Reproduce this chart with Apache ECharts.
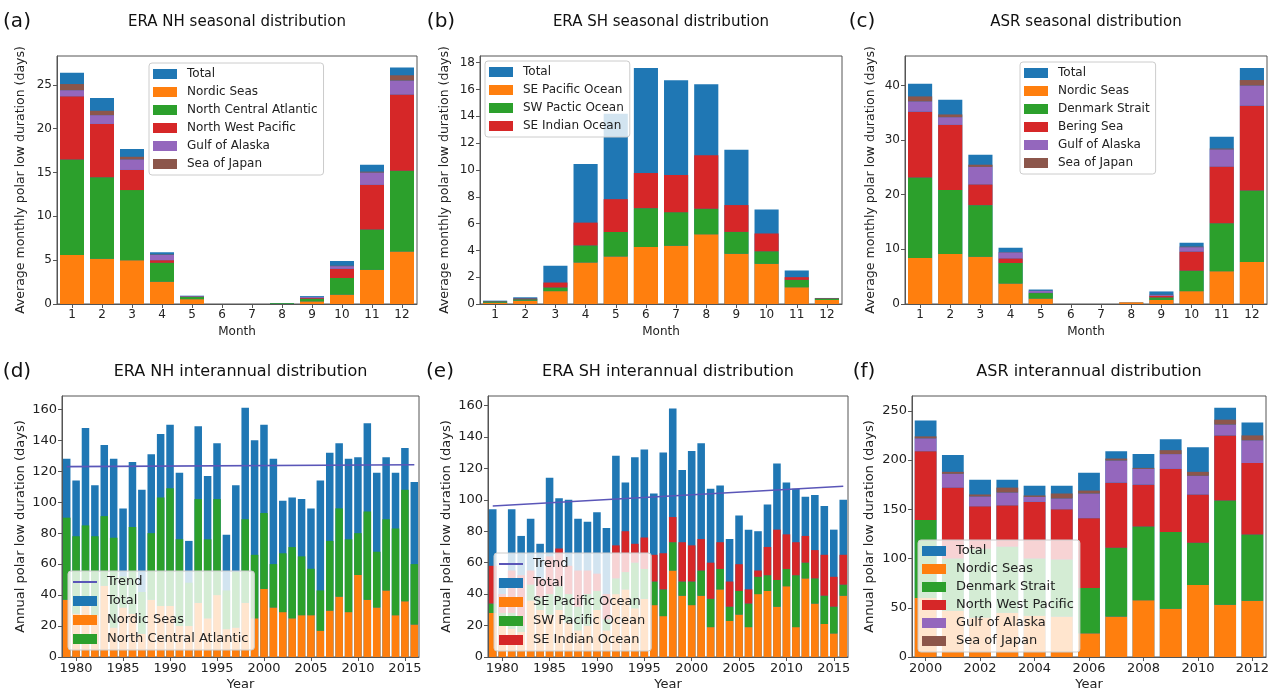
<!DOCTYPE html>
<html><head><meta charset="utf-8">
<script src="https://cdn.jsdelivr.net/npm/echarts@6/dist/echarts.min.js"></script>
<style>html,body{margin:0;padding:0;background:#fff}#c{width:1277px;height:693px}</style>
</head><body><div id="c"></div>
<script>
// ---------- categories ----------
const months = ['1','2','3','4','5','6','7','8','9','10','11','12'];
const yearsERA = ['1979','1980','1981','1982','1983','1984','1985','1986','1987','1988','1989','1990','1991','1992','1993','1994','1995','1996','1997','1998','1999','2000','2001','2002','2003','2004','2005','2006','2007','2008','2009','2010','2011','2012','2013','2014','2015','2016'];
const yearsASR = ['2000','2001','2002','2003','2004','2005','2006','2007','2008','2009','2010','2011','2012'];

// ---------- (a) ERA NH seasonal ----------
const aTotal  = [26.4, 23.5, 17.7, 5.9, 0.95, 0, 0, 0.1, 0.9, 4.9, 15.9, 27.0];
const aNordic = [5.6, 5.15, 5.0, 2.55, 0.55, 0, 0, 0.02, 0.3, 1.07, 3.9, 6.0];
const aNCA    = [10.9, 9.3, 8.0, 2.15, 0.25, 0, 0, 0.08, 0.3, 1.9, 4.6, 9.2];
const aNWP    = [7.2, 6.1, 2.3, 0.3, 0.05, 0, 0, 0, 0.1, 1.05, 5.1, 8.7];
const aGulf   = [0.7, 1.0, 1.2, 0.6, 0.05, 0, 0, 0, 0.1, 0.3, 1.4, 1.6];
const aSoJ    = [0.7, 0.5, 0.3, 0.05, 0, 0, 0, 0, 0, 0.05, 0.1, 0.6];
const aTicks  = [0, 5, 10, 15, 20, 25];

// ---------- (b) ERA SH seasonal ----------
const bTotal = [0.25, 0.5, 2.85, 10.45, 14.2, 17.6, 16.7, 16.4, 11.5, 7.05, 2.5, 0.45];
const bSEP   = [0.1, 0.25, 0.96, 3.1, 3.55, 4.25, 4.35, 5.2, 3.75, 3.0, 1.25, 0.3];
const bSW    = [0.08, 0.1, 0.27, 1.27, 1.82, 2.9, 2.5, 1.9, 1.63, 0.93, 0.55, 0.1];
const bSEI   = [0.02, 0.05, 0.37, 1.7, 2.45, 2.62, 2.77, 4.0, 2.0, 1.33, 0.2, 0.03];
const bTicks = [0, 2, 4, 6, 8, 10, 12, 14, 16, 18];

// ---------- (c) ASR seasonal ----------
const cTotal  = [40.3, 37.4, 27.3, 10.3, 2.65, 0, 0, 0.3, 2.3, 11.2, 30.6, 43.2];
const cNordic = [8.4, 9.15, 8.65, 3.75, 1.0, 0, 0, 0.3, 0.75, 2.35, 6.0, 7.7];
const cDS     = [14.75, 11.7, 9.45, 3.75, 1.0, 0, 0, 0, 0.45, 3.75, 8.8, 13.1];
const cBering = [12.05, 11.95, 3.8, 0.85, 0.05, 0, 0, 0, 0.3, 3.5, 10.35, 15.5];
const cGulf   = [1.9, 1.4, 3.2, 1.1, 0.35, 0, 0, 0, 0.15, 0.8, 3.15, 3.7];
const cSoJ    = [0.9, 0.5, 0.4, 0.05, 0.02, 0, 0, 0, 0.05, 0.1, 0.15, 1.0];
const cTicks  = [0, 10, 20, 30, 40];

// ---------- (d) ERA NH interannual ----------
const dTotal  = [128,114,148,111,137,128,96,126,108,131,144,150,119,75,149,117,138,79,111,161,140,150,128,101,103,102,96,114,132,138,128,129,151,119,129,119,135,113];
const dNordic = [37,28,33,27,46,19,32,28,15,37,33,33,20,20,35,25,40,18,19,35,25,44,32,29,25,27,27,17,30,39,29,53,37,32,43,27,36,21];
const dNCA    = [53,50,52,51,45,58,20,56,27,43,70,76,56,28,67,51,62,25,36,54,41,49,28,38,46,38,30,26,45,57,47,27,57,36,46,56,72,39];
const dTrend  = [123.0, 124.2];   // trend line, start (1979) and end (2016)
const dTicks  = [0, 20, 40, 60, 80, 100, 120, 140, 160];

// ---------- (e) ERA SH interannual ----------
const eTotal = [94,50,94,77,88,72,114,101,100,88,86,92,82,128,111,127,132,104,130,158,119,131,136,107,109,75,90,81,80,97,123,111,107,102,103,96,81,100];
const eSEP   = [28,20,18,16,36,30,27,30,22,17,20,30,17,40,43,31,37,33,26,55,39,33,39,19,43,23,27,19,40,42,32,45,19,50,34,21,15,39];
const eSW    = [6,8,10,4,10,8,13,15,18,15,20,12,7,10,11,29,19,15,17,18,9,15,16,18,13,9,15,15,11,10,17,11,33,10,16,18,17,7];
const eSEI   = [24,12,27,32,9,12,24,24,18,23,15,11,16,21,26,12,20,17,23,16,25,23,20,23,17,16,17,9,4,18,32,22,21,17,18,26,19,19];
const eTrend = [96.0, 108.6];
const eTicks = [0, 20, 40, 60, 80, 100, 120, 140, 160];

// ---------- (f) ASR interannual ----------
const fTotal  = [240,205,180,180,174,174,187,209,206,221,213,253,238];
const fNordic = [60,47,40,45,42,41,24,41,57.5,49,73,53,57];
const fDS     = [79,53,70,67,58,58,46,70,75,78,43,106,67.5];
const fNWP    = [70,72,43,42,57.5,51,71,66,42.5,64,49,66,72.5];
const fGulf   = [13,14,10,13,5,11,25,22.5,16,15,19,11,23];
const fSoJ    = [2,2,2,5,1.5,5,3,2,1,4,4,5,5];
const fTicks  = [0, 50, 100, 150, 200, 250];

// ---------- styling ----------
const COL = {blue:'#1f77b4', orange:'#ff7f0e', green:'#2ca02c', red:'#d62728', purple:'#9467bd', brown:'#8c564b', trend:'#5a56b8'};
const FONT = 'DejaVu Sans';
const AX = '#555';

const grids = [], xAxes = [], yAxes = [], series = [], legends = [], graphics = [];

function addPanel(p) {
  const i = grids.length;
  grids.push({left: p.box[0], top: p.box[1], width: p.box[2], height: p.box[3], show: true,
    borderColor: AX, borderWidth: 1, backgroundColor: 'transparent'});
  xAxes.push({type: 'category', gridIndex: i, data: p.cats, boundaryGap: true,
    axisLine: {show: true, lineStyle: {color: AX}},
    axisTick: {show: true, alignWithLabel: true, length: 4, interval: p.xInt, lineStyle: {color: AX}},
    axisLabel: {interval: p.xInt, fontSize: p.fs, color: '#222', fontFamily: FONT, margin: 5},
    splitLine: {show: false}});
  yAxes.push({type: 'value', gridIndex: i, min: 0, max: p.ymax,
    axisLine: {show: true, lineStyle: {color: AX}},
    axisTick: {show: true, length: 4, customValues: p.yticks, lineStyle: {color: AX}},
    axisLabel: {customValues: p.yticks, fontSize: p.fs, color: '#222', fontFamily: FONT, margin: 5},
    splitLine: {show: false}});
  series.push({name: 'Total', type: 'bar', xAxisIndex: i, yAxisIndex: i, data: p.total,
    barWidth: '80%', barGap: '-100%', itemStyle: {color: COL.blue}});
  p.comps.forEach(c => series.push({name: c[0], type: 'bar', stack: 'st' + i, xAxisIndex: i, yAxisIndex: i,
    data: c[1], barWidth: '80%', barGap: '-100%', itemStyle: {color: c[2]}}));
  const legData = [];
  if (p.trend) {
    const td = p.cats.map(() => null);
    td[0] = p.trend[0]; td[td.length - 1] = p.trend[1];
    series.push({name: 'Trend', type: 'line', xAxisIndex: i, yAxisIndex: i, data: td, connectNulls: true,
      symbol: 'none', lineStyle: {color: COL.trend, width: 1.6}, itemStyle: {color: COL.trend}, z: 3});
    legData.push({name: 'Trend', itemStyle: {opacity: 0}, lineStyle: {color: COL.trend, width: 2}});
  }
  legData.push({name: 'Total', icon: 'rect'});
  p.comps.forEach(c => legData.push({name: c[0], icon: 'rect'}));
  legends.push({left: p.leg[0], top: p.leg[1], orient: 'vertical', data: legData, selectedMode: false,
    itemWidth: 24, itemHeight: 10, itemGap: p.leg[2], padding: [4, 6, 4, 4],
    backgroundColor: 'rgba(255,255,255,0.8)', borderColor: '#cccccc', borderWidth: 1, borderRadius: 3,
    textStyle: {fontSize: p.lfs, color: '#222', fontFamily: FONT, lineHeight: 14, padding: [0, 0, 0, 5]}});
  const cx = p.box[0] + p.box[2] / 2, cy = p.box[1] + p.box[3] / 2;
  graphics.push({type: 'text', x: cx, y: p.titleY, style: {text: p.title, fontSize: p.tfs, fontFamily: FONT, fill: '#111', align: 'center', verticalAlign: 'middle'}});
  graphics.push({type: 'text', x: p.letter[0], y: p.titleY, style: {text: p.letter[1], fontSize: 20, fontFamily: FONT, fill: '#111', align: 'center', verticalAlign: 'middle'}});
  graphics.push({type: 'text', x: p.ylabX, y: cy, rotation: Math.PI / 2, style: {text: p.ylab, fontSize: p.yfs, fontFamily: FONT, fill: '#222', align: 'center', verticalAlign: 'middle'}});
  graphics.push({type: 'text', x: cx, y: p.xlabY, style: {text: p.xlab, fontSize: p.fs, fontFamily: FONT, fill: '#222', align: 'center', verticalAlign: 'middle'}});
}

const every5 = (idx, val) => (+val) % 5 === 0;
const every2 = (idx, val) => (+val) % 2 === 0;
const ylTop = 'Average monthly polar low duration (days)';
const ylBot = 'Annual polar low duration (days)';

addPanel({box: [57, 56, 360, 248], cats: months, xInt: 0, ymax: 28.3, yticks: aTicks, fs: 12, yfs: 12.5, lfs: 12, tfs: 15,
  total: aTotal, comps: [['Nordic Seas', aNordic, COL.orange], ['North Central Atlantic', aNCA, COL.green],
    ['North West Pacific', aNWP, COL.red], ['Gulf of Alaska', aGulf, COL.purple], ['Sea of Japan', aSoJ, COL.brown]],
  leg: [149, 63, 4], title: 'ERA NH seasonal distribution', titleY: 22, letter: [17, '(a)'],
  ylab: ylTop, ylabX: 21, xlab: 'Month', xlabY: 332});

addPanel({box: [480, 56, 362, 248], cats: months, xInt: 0, ymax: 18.5, yticks: bTicks, fs: 12, yfs: 12.5, lfs: 12, tfs: 15,
  total: bTotal, comps: [['SE Pacific Ocean', bSEP, COL.orange], ['SW Pactic Ocean', bSW, COL.green],
    ['SE Indian Ocean', bSEI, COL.red]],
  leg: [485, 61, 4], title: 'ERA SH seasonal distribution', titleY: 22, letter: [441, '(b)'],
  ylab: ylTop, ylabX: 445, xlab: 'Month', xlabY: 332});

addPanel({box: [905, 56, 362, 248], cats: months, xInt: 0, ymax: 45.4, yticks: cTicks, fs: 12, yfs: 12.5, lfs: 12, tfs: 15,
  total: cTotal, comps: [['Nordic Seas', cNordic, COL.orange], ['Denmark Strait', cDS, COL.green],
    ['Bering Sea', cBering, COL.red], ['Gulf of Alaska', cGulf, COL.purple], ['Sea of Japan', cSoJ, COL.brown]],
  leg: [1020, 62, 4], title: 'ASR seasonal distribution', titleY: 22, letter: [862, '(c)'],
  ylab: ylTop, ylabX: 871, xlab: 'Month', xlabY: 332});

addPanel({box: [62, 396, 357, 261], cats: yearsERA, xInt: every5, ymax: 168.6, yticks: dTicks, fs: 13, yfs: 13, lfs: 13, tfs: 16,
  total: dTotal, comps: [['Nordic Seas', dNordic, COL.orange], ['North Central Atlantic', dNCA, COL.green]],
  trend: dTrend,
  leg: [68, 571, 5], title: 'ERA NH interannual distribution', titleY: 372, letter: [17, '(d)'],
  ylab: ylBot, ylabX: 21, xlab: 'Year', xlabY: 685});

addPanel({box: [488, 396, 360, 261], cats: yearsERA, xInt: every5, ymax: 166, yticks: eTicks, fs: 13, yfs: 13, lfs: 13, tfs: 16,
  total: eTotal, comps: [['SE Pacific Ocean', eSEP, COL.orange], ['SW Pacific Ocean', eSW, COL.green],
    ['SE Indian Ocean', eSEI, COL.red]],
  trend: eTrend,
  leg: [494, 553, 5], title: 'ERA SH interannual distribution', titleY: 372, letter: [440, '(e)'],
  ylab: ylBot, ylabX: 447, xlab: 'Year', xlabY: 685});

addPanel({box: [912, 396, 354, 261], cats: yearsASR, xInt: every2, ymax: 265, yticks: fTicks, fs: 13, yfs: 13, lfs: 13, tfs: 16,
  total: fTotal, comps: [['Nordic Seas', fNordic, COL.orange], ['Denmark Strait', fDS, COL.green],
    ['North West Pacific', fNWP, COL.red], ['Gulf of Alaska', fGulf, COL.purple], ['Sea of Japan', fSoJ, COL.brown]],
  leg: [918, 540, 4], title: 'ASR interannual distribution', titleY: 372, letter: [864, '(f)'],
  ylab: ylBot, ylabX: 870, xlab: 'Year', xlabY: 685});

const chart = echarts.init(document.getElementById('c'), null, {renderer: 'canvas'});
chart.setOption({
  animation: false,
  backgroundColor: '#ffffff',
  textStyle: {fontFamily: FONT},
  grid: grids, xAxis: xAxes, yAxis: yAxes, series: series, legend: legends, graphic: graphics
});
</script></body></html>
